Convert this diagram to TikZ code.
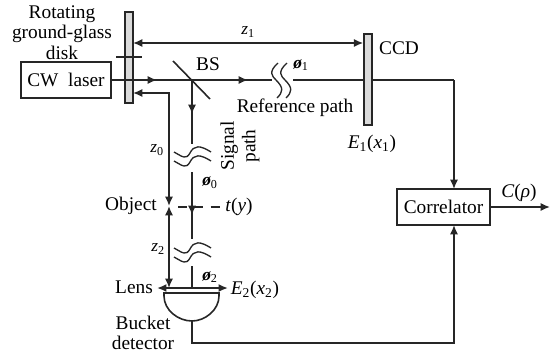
\documentclass[tikz,border=0pt]{standalone}
\usepackage{fontspec}
\setmainfont{Liberation Serif}
\usetikzlibrary{arrows.meta}
\definecolor{plategray}{RGB}{218,218,218}
\newcommand{\lab}[2]{\textit{#1}\textsubscript{#2}}
\newcommand{\phs}[1]{\textit{\textbf{ø}}\textsubscript{#1}}

\tikzset{
    lbl/.style={inner sep=0pt, font=\fontsize{14.5}{17}\selectfont, align=center},
    small/.style={inner sep=0pt, font=\fontsize{13}{15}\selectfont},
    plate/.style={draw=black!85, line width=1.1pt, fill=plategray, minimum width=6pt, minimum height=68.25pt, inner sep=0pt},
    box/.style={draw=black!85, line width=1.3pt, inner sep=0pt},
    beam/.style={draw=black!85, line width=1.2pt},
    tip/.style={-{Latex[length=7pt,width=6pt]}},
    twotip/.style={{Latex[length=7pt,width=6pt]}-{Latex[length=7pt,width=6pt]}},
    wave/.style={draw=black!85, line width=1pt}
}

\begin{document}
\begin{tikzpicture}[x=0.75pt, y=-0.75pt]
    \useasboundingbox (0,0) rectangle (550,354);

    % Source and plates
    \node[box, minimum width=67.5pt, minimum height=27pt, lbl] (laser) at (66,80) {CW\ \ laser};
    \node[plate] (disk) at (129,57.5) {};
    \node[plate] (ccd) at (368,79.5) {};
    \node[box, minimum width=69.75pt, minimum height=27pt, lbl] (corr) at (443.5,207) {Correlator};

    % Points on the beams
    \coordinate (bs) at (192,80);
    \coordinate (bsa) at (173,61);
    \coordinate (bsb) at (210,99);
    \coordinate (refa) at (157,80);
    \coordinate (refb) at (248,80);
    \coordinate (refc) at (272,80);
    \coordinate (refd) at (293,80);
    \coordinate (corner) at (454,80);
    \coordinate (corrtop) at (454,189);
    \coordinate (corrbot) at (454,225);
    \coordinate (sigtop) at (192,114);
    \coordinate (sigbreak) at (192,144);
    \coordinate (sigres) at (192,172);
    \coordinate (sigmid) at (192,215);
    \coordinate (sigend) at (192,239);
    \coordinate (lowres) at (192,266);
    \coordinate (lensmid) at (192,288);
    \coordinate (lensl) at (157,288);
    \coordinate (lensr) at (228,288);
    \coordinate (detl) at (164,293);
    \coordinate (detr) at (219,293);
    \coordinate (detb) at (192,321);
    \coordinate (detc) at (192,343);
    \coordinate (detd) at (454,343);
    \coordinate (objup) at (169,206);
    \coordinate (objdn) at (169,206);
    \coordinate (lenstop) at (169,288);
    \coordinate (tickl) at (116,57);
    \coordinate (tickr) at (142,57);
    \coordinate (dasha) at (178,207);
    \coordinate (dashb) at (220,207);
    \coordinate (outp) at (550,207);
    \coordinate (ztop) at (133,43);
    \coordinate (zback) at (133,93);

    % Beam splitter and disk axle
    \draw[beam] (bsa) -- (bsb);
    \draw[beam] (tickl) -- (tickr);

    % Reference path
    \draw[beam] (laser.east) -- (refc);
    \draw[beam, tip] (laser.east) -- (refa);
    \draw[beam, tip] (bs) -- (refb);
    \draw[beam] (refd) -- (refd -| ccd.west);
    \draw[beam] (corner -| ccd.east) -- (corner);
    \draw[beam, tip] (corner) -- (corrtop);
    \draw[beam, twotip] (ztop) -- (ztop -| ccd.west);

    % Signal path
    \draw[beam] (bs) -- (sigbreak);
    \draw[beam, tip] (bs) -- (sigtop);
    \draw[beam] (sigres) -- (sigend);
    \draw[beam, tip] (sigres) -- (sigmid);
    \draw[beam] (lowres) -- (lensmid);
    \draw[beam, twotip] (zback) -| (objup);
    \draw[beam, twotip] (objdn) -- (lenstop);
    \draw[beam, dash pattern=on 6.75pt off 5.5pt] (dasha) -- (dashb);

    % Wave breaks
    \draw[wave] (278,63) .. controls (268,72) and (272,76) .. (276,80) .. controls (284,88) and (283,92) .. (277,98);
    \draw[wave] (287,63) .. controls (277,72) and (281,76) .. (285,80) .. controls (293,88) and (292,92) .. (286,98);
    \draw[wave] (174,152) .. controls (183,157) and (186,160) .. (190,153) .. controls (194,145) and (200,145) .. (211,152);
    \draw[wave] (174,161) .. controls (183,166) and (186,169) .. (190,162) .. controls (194,154) and (200,154) .. (211,161);
    \draw[wave] (174,248) .. controls (183,253) and (186,256) .. (190,249) .. controls (194,241) and (200,241) .. (211,248);
    \draw[wave] (174,257) .. controls (183,262) and (186,265) .. (190,258) .. controls (194,250) and (200,250) .. (211,257);

    % Lens and detector
    \draw[beam, twotip, line width=1.4pt] (lensl) -- (lensr);
    \draw[beam, line width=1.2pt] (detl) -- (detr) -- (219,296) .. controls (219,310) and (205,321) .. (detb) .. controls (178,321) and (164,310) .. (164,296) -- cycle;
    \draw[beam, tip] (detb) -- (detc) -- (detd) -- (corrbot);
    \draw[beam, tip] (corr.east) -- (outp);

    % Labels
    \node[lbl] (disklbl) at (62,32.5) {Rotating\\[-1.6pt]ground-glass\\[-1.6pt]disk};
    \node[lbl] (bslbl) at (208,64) {BS};
    \node[lbl] (ccdlbl) at (399,48) {CCD};
    \node[lbl] (reflbl) at (295,108) {Reference path};
    \node[lbl, rotate=90] (siglbl) at (240,146) {Signal\\[-1pt]path};
    \node[lbl] (objlbl) at (131,206) {Object};
    \node[lbl] (lenslbl) at (134,287) {Lens};
    \node[lbl] (detlbl) at (143,333) {Bucket\\[-2pt]detector};
    \node[lbl] (tylbl) at (239,207) {\textit{t}(\textit{y})};
    \node[lbl] (e1lbl) at (372,144) {\lab{E}{1}(\lab{x}{1})};
    \node[lbl] (e2lbl) at (255,290) {\lab{E}{2}(\lab{x}{2})};
    \node[lbl] (clbl) at (519,193) {\textit{C}(\textit{ρ})};
    \node[small] (z1lbl) at (248,32) {\lab{z}{1}};
    \node[small] (z0lbl) at (157,150) {\lab{z}{0}};
    \node[small] (z2lbl) at (158,249) {\lab{z}{2}};
    \node[small] (ph0lbl) at (210,183) {\phs{0}};
    \node[small] (ph1lbl) at (301,65) {\phs{1}};
    \node[small] (ph2lbl) at (210,277) {\phs{2}};
\end{tikzpicture}
\end{document}
